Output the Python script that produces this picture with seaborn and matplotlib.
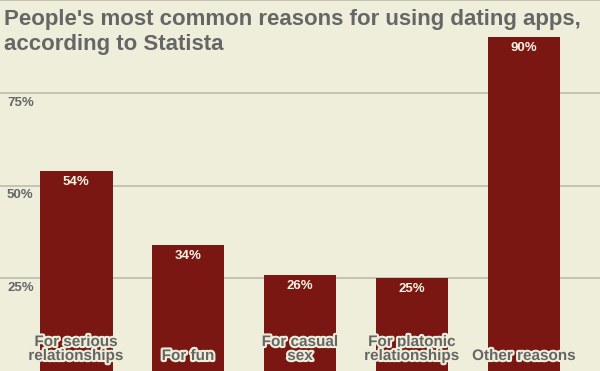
import matplotlib
matplotlib.use("Agg")
import matplotlib.pyplot as plt
import matplotlib.patheffects as pe
import seaborn as sns
import pandas as pd

categories = ["For serious\nrelationships", "For fun", "For casual\nsex",
              "For platonic\nrelationships", "Other reasons"]
values = [54, 34, 26, 25, 90]
yticks = [25, 50, 75, 100]
ytick_labels = ["25%", "50%", "75%", ""]
title_lines = ["People's most common reasons for using dating apps,",
               "according to Statista"]

BG = "#EFEEDB"
BAR = "#7A1713"
GRID = "#BDBCA8"
GRAY = "#666666"

sns.set_theme(style="white")
plt.rcParams['font.family'] = ['Liberation Sans', 'DejaVu Sans']

df = pd.DataFrame({"cat": categories, "val": values})

fig = plt.figure(figsize=(6, 3.71), dpi=100, facecolor=BG)
ax = fig.add_axes([0, 0, 1, 1])
ax.set_facecolor(BG)

sns.barplot(data=df, x="cat", y="val", color=BAR, width=0.65, ax=ax,
            saturation=1, zorder=2, linewidth=0, edgecolor=BAR)

ax.set_ylim(0, 100.0)
ax.set_xlim(-0.68, 4.68)
for s in ax.spines.values():
    s.set_visible(False)
ax.set_xticks([])
ax.set_yticks([])
ax.set_xlabel("")
ax.set_ylabel("")

for t in yticks:
    ax.axhline(t, color=GRID, lw=1.2, zorder=1, clip_on=False)
for t, lab in zip(yticks, ytick_labels):
    if lab:
        ax.annotate(lab, xy=(0, t), xycoords=("axes fraction", "data"),
                    xytext=(7, -4), textcoords="offset pixels",
                    ha="left", va="top", fontsize=9.5, fontweight="bold",
                    color=GRAY, zorder=3)

outline = [pe.withStroke(linewidth=3, foreground=BG)]
for i, (c, v) in enumerate(zip(categories, values)):
    ax.annotate(f"{v}%", xy=(i, v), xytext=(0, -5), textcoords="offset pixels",
                ha="center", va="top", fontsize=9.5, fontweight="bold",
                color="#F7F3E3", zorder=4)
    ax.annotate(c, xy=(i, 0), xytext=(0, 8), textcoords="offset pixels",
                ha="center", va="bottom", fontsize=11, fontweight="bold",
                color=GRAY, linespacing=1.0, zorder=5, path_effects=outline)

for k, line in enumerate(title_lines):
    fig.text(4 / 600, 1 - (25 + 25 * k) / 371, line, ha="left", va="baseline",
             fontsize=16, fontweight="bold", color=GRAY)

fig.savefig("out.png", dpi=100, facecolor=BG)
